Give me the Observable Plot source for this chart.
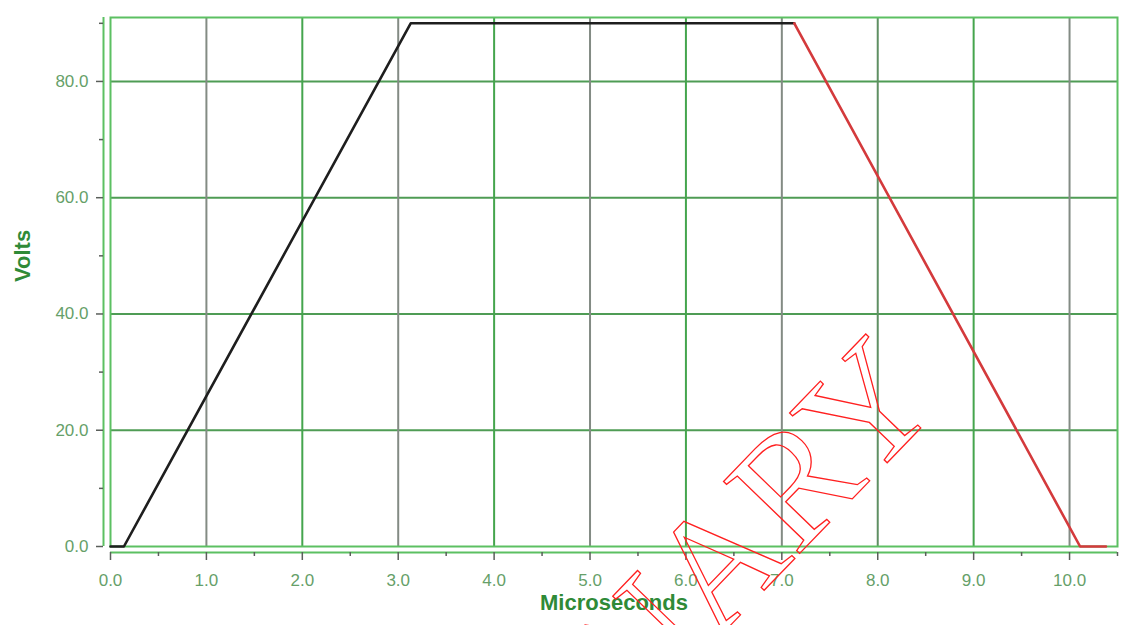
<!DOCTYPE html>
<html>
<head>
<meta charset="utf-8">
<script src="https://cdn.jsdelivr.net/npm/d3@7"></script>
<script src="https://cdn.jsdelivr.net/npm/@observablehq/plot@0.6"></script>
<style>
  html, body { margin: 0; padding: 0; background: #fff; }
  #wrap { position: relative; width: 1141px; height: 625px; overflow: hidden; }
  #wm { position: absolute; left: 0; top: 0; pointer-events: none; }
</style>
</head>
<body>
<div id="wrap"></div>
<script>
// ---- data ----
const riseTime  = [0, 0.14, 3.13, 7.13];
const riseVolts = [0, 0, 90, 90];
const fallTime  = [7.13, 10.11, 10.38];
const fallVolts = [90, 0, 0];

const xMajorTicks = [0, 1, 2, 3, 4, 5, 6, 7, 8, 9, 10];
const xMinorTicks = [0.5, 1.5, 2.5, 3.5, 4.5, 5.5, 6.5, 7.5, 8.5, 9.5, 10.5];
const yMajorTicks = [0, 20, 40, 60, 80];
const yMinorTicks = [10, 30, 50, 70, 90];
const xGridValues = [1, 2, 3, 4, 5, 6, 7, 8, 9, 10];
const yGridValues = [20, 40, 60, 80];

const xTitle = "Microseconds";
const yTitle = "Volts";
const watermark = "PRELIMINARY";

// ---- styles ----
const greyGrid = new Set([1, 3, 5, 7, 10]);
const midGrid = new Set([8]);
const gridColor = d => greyGrid.has(d) ? "#838b84" : midGrid.has(d) ? "#5f8f63" : "#45a54d";
const frameGreen = "#5cc062";
const labelGreen = "#669f69";
const titleGreen = "#2f8a37";
const tickGrey = "#5a5f5a";

const rise = riseTime.map((t, i) => ({t, v: riseVolts[i]}));
const fall = fallTime.map((t, i) => ({t, v: fallVolts[i]}));
const fmt = d3.format(".1f");

const chart = Plot.plot({
  width: 1141,
  height: 625,
  marginLeft: 110,
  marginRight: 24,
  marginTop: 17,
  marginBottom: 79,
  style: {fontFamily: "'Liberation Sans', Arial, sans-serif", fontSize: "17px", background: "#fff"},
  x: {domain: [0, 10.5]},
  y: {domain: [0, 91]},
  marks: [
    Plot.ruleY(yGridValues, {stroke: "#4f9c55", strokeWidth: 2}),
    Plot.ruleX(xGridValues, {stroke: gridColor, strokeWidth: 2}),
    Plot.frame({stroke: frameGreen, strokeWidth: 2}),
    // axis lines offset from frame
    Plot.ruleX([0], {dx: -7, stroke: frameGreen, strokeWidth: 2}),
    Plot.ruleY([0], {dy: 6, stroke: frameGreen, strokeWidth: 2}),
    // y axis
    Plot.axisY({ticks: yMajorTicks, tickSize: 7, tickPadding: 8, dx: -7, tickFormat: fmt,
      stroke: tickGrey, fill: labelGreen, label: null, strokeWidth: 1.5}),
    Plot.axisY({ticks: yMinorTicks, tickSize: 4, dx: -7, text: null, tickFormat: null,
      stroke: tickGrey, label: null, strokeWidth: 1.5}),
    // x axis
    Plot.axisX({ticks: xMajorTicks, tickSize: 8, tickPadding: 13, dy: 6, tickFormat: fmt,
      stroke: tickGrey, fill: labelGreen, label: null, strokeWidth: 1.5}),
    Plot.axisX({ticks: xMinorTicks, tickSize: 4, dy: 6, text: null, tickFormat: null,
      stroke: tickGrey, label: null, strokeWidth: 1.5}),
    // data
    Plot.line(rise, {x: "t", y: "v", stroke: "#1e1e1e", strokeWidth: 2.6}),
    Plot.line(fall, {x: "t", y: "v", stroke: "#d43a3c", strokeWidth: 2.6}),
    // titles
    Plot.text([yTitle], {frameAnchor: "left", dx: -88, rotate: -90, fontWeight: "bold",
      fontSize: 22, fill: titleGreen}),
    Plot.text([xTitle], {frameAnchor: "bottom", dy: 63, fontWeight: "bold",
      fontSize: 22, fill: titleGreen})
  ]
});

const wrap = document.getElementById("wrap");
wrap.appendChild(chart);

// watermark overlay
const ns = "http://www.w3.org/2000/svg";
const wm = document.createElementNS(ns, "svg");
wm.setAttribute("id", "wm");
wm.setAttribute("width", 1141);
wm.setAttribute("height", 625);
const t = document.createElementNS(ns, "text");
t.setAttribute("transform", "translate(944,404) rotate(-46)");
t.setAttribute("text-anchor", "end");
t.setAttribute("font-family", "'Liberation Serif', 'DejaVu Serif', serif");
t.setAttribute("font-size", 160);
t.setAttribute("fill", "none");
t.setAttribute("stroke", "#ff2020");
t.setAttribute("stroke-width", 1.3);
t.textContent = watermark;
wm.appendChild(t);
wrap.appendChild(wm);
</script>
</body>
</html>
